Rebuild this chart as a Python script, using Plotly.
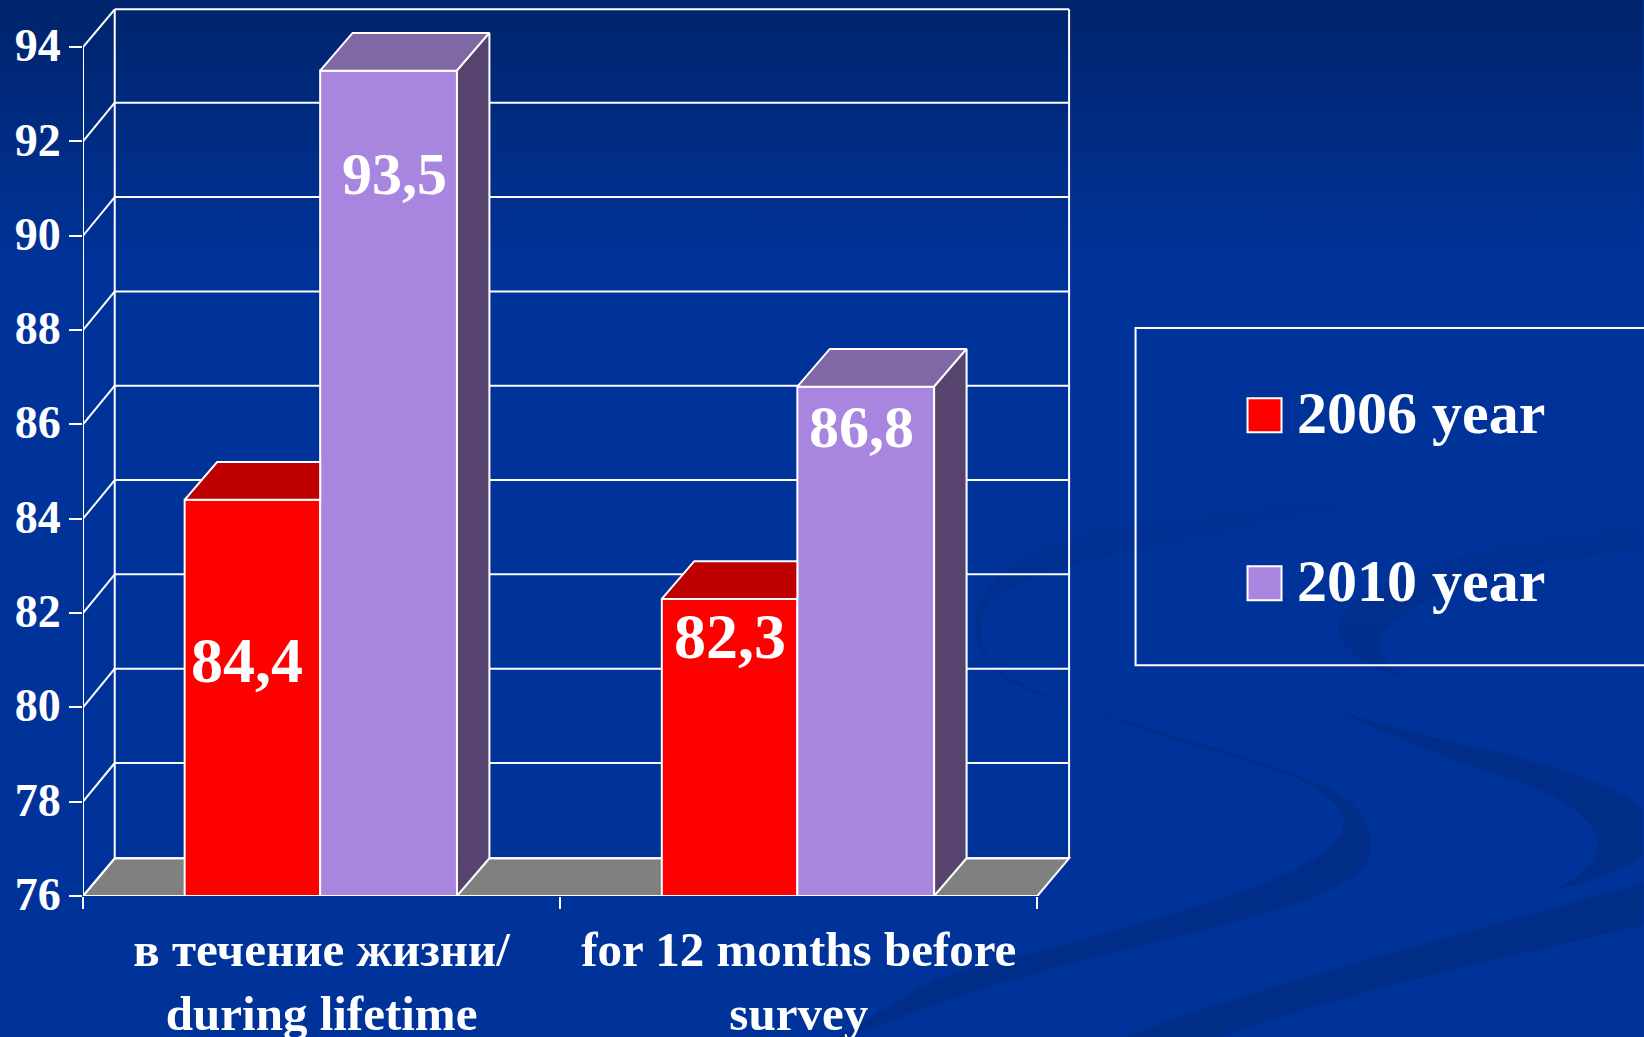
import base64
import plotly.graph_objects as go

categories = ["в течение жизни/<br>during lifetime", "for 12 months before<br>survey"]
series_2006 = [84.4, 82.3]
series_2010 = [93.5, 86.8]
series_names = ["2006 year", "2010 year"]
y_ticks = [76, 78, 80, 82, 84, 86, 88, 90, 92, 94]

WHITE = "#FFFFFF"
RED, RED_TOP = "#FF0000", "#BD0000"
PURPLE, PURPLE_TOP, PURPLE_SIDE = "#A886DF", "#7F68A5", "#56446F"
FLOOR = "#808080"
FONT = "Liberation Serif"

# depth of the pseudo-3D box, in axis units
DX, DY = 0.0665, 0.80
BAR_DX = 0.068
RED_W, PURPLE_W, SHIFT = 0.284, 0.2867, -0.003
XMIN, XMAX = -0.5, 1.5
YMIN, YMAX = 76, 94
xs = list(range(len(categories)))

W, H = 1644, 1037
ML, MR, MT, MB = 83, 572.6, 7, 141.3
PW, PH = W - ML - MR, H - MT - MB


def px(x):
    return (x - ML) / PW


def py(y):
    return (H - MB - y) / PH


svg = f'''<svg xmlns="http://www.w3.org/2000/svg" width="1644" height="1037" viewBox="0 0 1644 1037" preserveAspectRatio="none">
<defs><linearGradient id="g" x1="0" y1="0" x2="0" y2="1">
<stop offset="0" stop-color="#00246B"/><stop offset="0.26" stop-color="#00339A"/><stop offset="1" stop-color="#00339A"/>
</linearGradient>
<linearGradient id="r" gradientUnits="userSpaceOnUse" x1="0" y1="330" x2="0" y2="900">
<stop offset="0" stop-color="#00339A"/><stop offset="0.35" stop-color="#003092"/><stop offset="1" stop-color="#002D87"/>
</linearGradient></defs>
<rect width="1644" height="1037" fill="url(#g)"/>
<g transform="translate(960 300) scale(0.4363 0.4699)">
<g fill="url(#r)">
<path d="M1330 70 C1360 150 1330 290 1200 365 C1000 400 600 440 300 490 C120 530 30 620 35 700 C40 780 130 820 300 875 C500 930 700 980 850 1040 C930 1080 955 1130 940 1180 C920 1240 820 1275 640 1320 C400 1380 150 1430 -60 1500 L-320 1590 L-60 1445 C200 1380 500 1310 700 1240 C800 1200 880 1160 880 1110 C880 1060 780 1010 620 970 C450 925 300 880 130 820 C60 790 40 720 55 670 C75 620 150 590 300 555 C500 510 750 470 1000 430 C1150 400 1280 370 1340 200 Z"/>
<path d="M1568 480 C1350 500 1100 540 960 610 C880 650 850 690 875 725 C900 760 960 790 1010 800 C980 770 955 750 965 720 C980 680 1100 610 1250 580 C1350 555 1470 540 1568 535 Z"/>
<path d="M830 860 C1000 920 1200 950 1330 985 C1450 1020 1560 1060 1568 1090 L1568 1185 C1500 1220 1430 1245 1365 1255 C1430 1220 1470 1190 1462 1150 C1450 1090 1350 1040 1200 1000 C1100 970 950 910 830 860 Z"/>
</g>
<path fill="#002D85" d="M1568 1240 C1300 1310 1000 1385 760 1450 C600 1495 480 1530 380 1568 L600 1568 C800 1500 1000 1450 1568 1330 Z"/>
</g>
</svg>'''
bg_uri = "data:image/svg+xml;base64," + base64.b64encode(svg.encode()).decode()

fig = go.Figure()

# Front faces
fig.add_bar(x=xs, y=[v - YMIN for v in series_2006], base=YMIN, name=series_names[0],
            width=RED_W, offset=SHIFT - RED_W,
            marker=dict(color=RED, line=dict(color=WHITE, width=2)), showlegend=False)
fig.add_bar(x=xs, y=[v - YMIN for v in series_2010], base=YMIN, name=series_names[1],
            width=PURPLE_W, offset=SHIFT,
            marker=dict(color=PURPLE, line=dict(color=WHITE, width=2)), showlegend=False)


def face(fx, fy, color):
    fig.add_scatter(x=fx, y=fy, mode="lines", fill="toself", fillcolor=color,
                    line=dict(color=WHITE, width=2), hoverinfo="skip", showlegend=False)


for i, (a, b) in enumerate(zip(series_2006, series_2010)):
    xc = i + SHIFT
    x0, x1 = xc - RED_W, xc + PURPLE_W
    # visible part of the red top, cut off by the taller purple bar
    face([x0, xc, xc, x0 + BAR_DX, x0], [a, a, a + DY, a + DY, a], RED_TOP)
    # purple top and side
    face([xc, x1, x1 + BAR_DX, xc + BAR_DX, xc], [b, b, b + DY, b + DY, b], PURPLE_TOP)
    face([x1, x1 + BAR_DX, x1 + BAR_DX, x1, x1], [YMIN, YMIN + DY, b + DY, b, YMIN], PURPLE_SIDE)

# front axis lines (not clipped at the plot edge)
fig.add_scatter(x=[XMIN, XMIN, XMAX], y=[YMAX, YMIN, YMIN], mode="lines", cliponaxis=False,
                line=dict(color=WHITE, width=2), hoverinfo="skip", showlegend=False)

# Floor and walls, behind the bars
GRID = dict(color=WHITE, width=2)
shapes = [dict(type="path", xref="x", yref="y", layer="below", fillcolor=FLOOR,
               path=f"M{XMIN},{YMIN} L{XMAX},{YMIN} L{XMAX + DX},{YMIN + DY} L{XMIN + DX},{YMIN + DY} Z",
               line=GRID)]
for t in y_ticks:
    back = t + DY + (0.02 if YMIN < t < YMAX else 0)
    shapes.append(dict(type="line", xref="x", yref="y", layer="below",
                       x0=XMIN, y0=t, x1=XMIN + DX, y1=back, line=GRID))
    shapes.append(dict(type="line", xref="x", yref="y", layer="below",
                       x0=XMIN + DX, y0=back, x1=XMAX + DX, y1=back, line=GRID))
for xv in (XMIN + DX, XMAX + DX):
    shapes.append(dict(type="line", xref="x", yref="y", layer="below",
                       x0=xv, y0=YMIN + DY, x1=xv, y1=YMAX + DY, line=GRID))

# Legend box and keys (paper coordinates are relative to the plot area)
shapes.append(dict(type="rect", xref="paper", yref="paper", x0=px(1136), x1=px(1660),
                   y0=py(665), y1=py(328), line=GRID, layer="below"))
annotations = []
for name, col, yc in zip(series_names, [RED, PURPLE], [415, 583]):
    shapes.append(dict(type="rect", xref="paper", yref="paper", x0=px(1248), x1=px(1282),
                       y0=py(yc + 17), y1=py(yc - 17), fillcolor=col, line=GRID))
    annotations.append(dict(xref="paper", yref="paper", x=px(1295), y=py(yc - 2), text=name,
                            showarrow=False, xanchor="left", yanchor="middle",
                            font=dict(family=FONT, size=60, color=WHITE, weight="bold")))

# Value labels
label_drop_2006 = [3.4, 0.8]
label_drop_2010 = [2.2, 0.85]
label_nudge_2006 = [-0.015, -0.002]
label_nudge_2010 = [0.009, -0.012]
for i in xs:
    for vals, drop, nudge, off, size in (
            (series_2006, label_drop_2006, label_nudge_2006, -RED_W / 2, 64),
            (series_2010, label_drop_2010, label_nudge_2010, PURPLE_W / 2, 60)):
        annotations.append(dict(x=i + off + nudge[i], y=vals[i] - drop[i],
                                text=f"{vals[i]:.1f}".replace(".", ","), showarrow=False,
                                font=dict(family=FONT, size=size, color=WHITE, weight="bold")))

fig.update_layout(
    width=W, height=H,
    margin=dict(l=ML, r=MR, t=MT, b=MB, pad=0, autoexpand=False),
    paper_bgcolor="#00339A", plot_bgcolor="rgba(0,0,0,0)",
    shapes=shapes, annotations=annotations,
    images=[dict(source=bg_uri, xref="paper", yref="paper", x=px(0), y=py(0), sizex=W / PW, sizey=H / PH,
                 sizing="stretch", xanchor="left", yanchor="top", layer="below")],
    showlegend=False,
    xaxis=dict(range=[XMIN, XMAX + DX + 0.004], tickmode="array", tickvals=xs, ticktext=categories,
               ticks="", showgrid=False, zeroline=False, showline=False, automargin=False,
               ticklabelstandoff=20,
               tickfont=dict(family=FONT, size=49, color=WHITE, weight="bold"), tickangle=0,
               minor=dict(tickmode="array", tickvals=[-0.5, 0.5, 1.5], ticks="outside",
                          ticklen=12, tickwidth=2, tickcolor=WHITE, showgrid=False)),
    yaxis=dict(range=[YMIN, YMAX + 0.85], tickmode="array", tickvals=y_ticks,
               ticks="outside", ticklen=13, tickwidth=2, tickcolor=WHITE, ticklabelshift=-2,
               ticklabelstandoff=-1,
               showgrid=False, zeroline=False, showline=False, automargin=False,
               tickfont=dict(family=FONT, size=46, color=WHITE, weight="bold")),
)

fig.write_html("out.html", config=dict(displayModeBar=False),
               post_script="document.body.style.margin='0';document.body.style.overflow='hidden';")
